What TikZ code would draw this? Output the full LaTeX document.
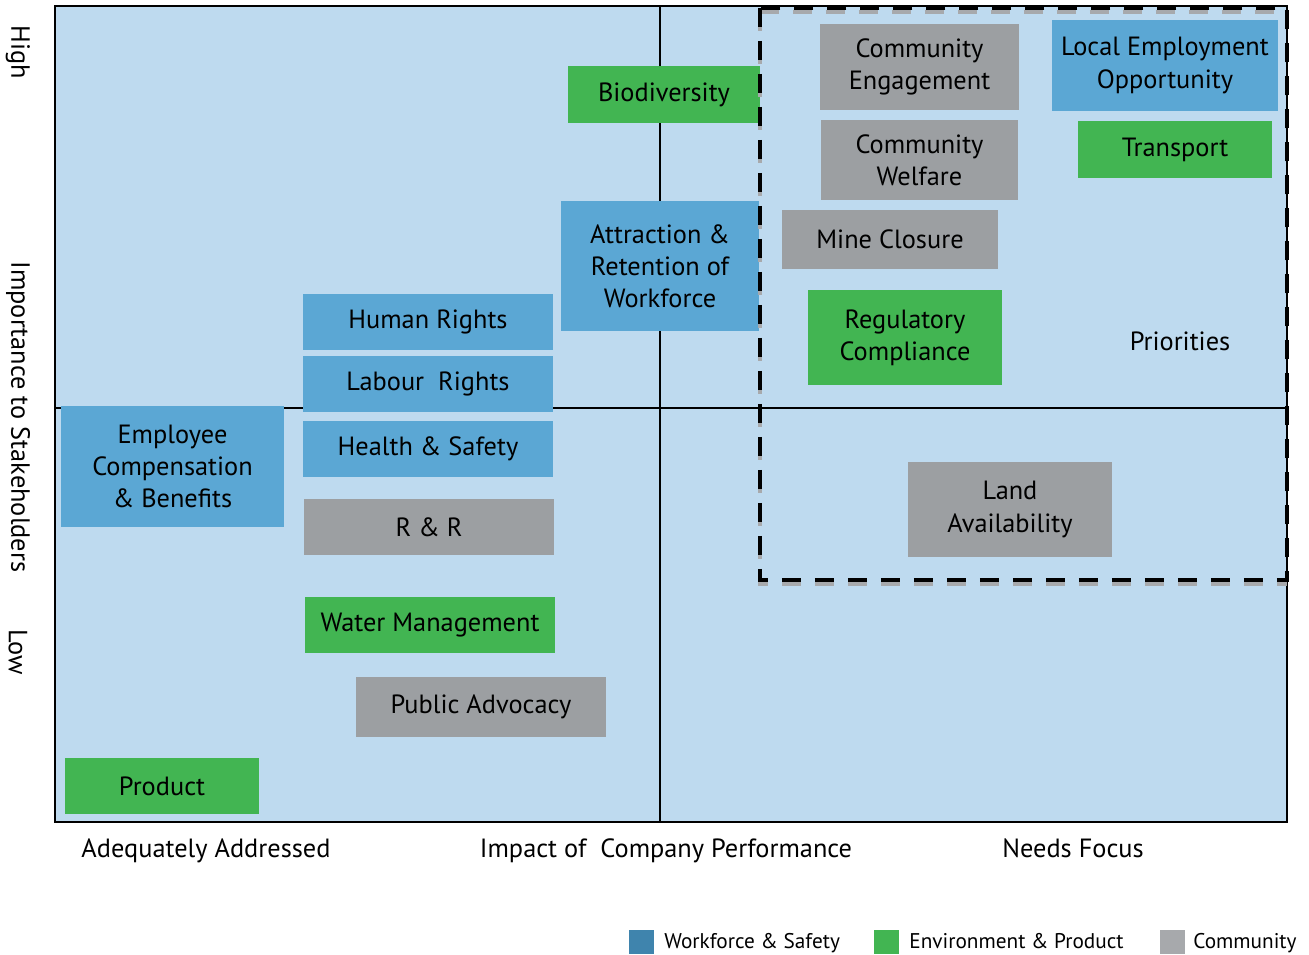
\documentclass[tikz,border=0pt]{standalone}
\usepackage{fontspec}
\setmainfont{PT Sans}
\definecolor{matbg}{RGB}{190,218,239}
\definecolor{wfblue}{RGB}{91,167,212}
\definecolor{envgreen}{RGB}{66,181,82}
\definecolor{comgrey}{RGB}{156,159,162}
\definecolor{keyblue}{RGB}{63,132,173}
\definecolor{keygrey}{RGB}{167,169,172}
\tikzset{
  issue/.style={inner sep=0pt, align=center, font=\fontsize{15}{18.3}\selectfont},
  wf/.style={issue, fill=wfblue},
  env/.style={issue, fill=envgreen},
  com/.style={issue, fill=comgrey},
  area/.style 2 args={minimum width=#1*0.02cm, minimum height=#2*0.02cm},
  axislabel/.style={inner sep=0pt, font=\fontsize{15}{18}\selectfont},
  keybox/.style={inner sep=0pt, minimum width=0.5cm, minimum height=0.48cm},
  keytext/.style={anchor=base west, inner sep=0pt, font=\fontsize{12.1}{14}\selectfont},
}
\begin{document}
\begin{tikzpicture}[x=0.02cm,y=-0.02cm]
  \useasboundingbox (0,0) rectangle (1309,955);
  % matrix background and quadrants
  \fill[matbg] (55,6) rectangle (1287,822);
  \draw[line width=1pt] (660,6) -- (660,822);
  \draw[line width=1pt] (55,408) -- (1287,408);
  \draw[line width=1.2pt] (55,6) rectangle (1287,822);

  % issues
  \node[env, area={192}{57}] (bio) at (664,94.5) {Biodiversity};
  \node[com, area={199}{86}] (engage) at (919.5,67) {Community\\Engagement};
  \node[wf, area={226}{91}] (localemp) at (1165,65.5) {Local Employment\\Opportunity};
  \node[com, area={197}{80}] (welfare) at (919.5,160) {Community\\Welfare};
  \node[env, area={194}{57}] (transport) at (1175,149.5) {Transport};
  \node[wf, area={198}{130}] (attract) at (660,266) {Attraction \&\\Retention of\\Workforce};
  \node[com, area={216}{59}] (closure) at (890,239.5) {Mine Closure};
  \node[env, area={194}{95}] (regulatory) at (905,337.5) {Regulatory\\Compliance};
  \node[issue] (priorities) at (1180,341) {Priorities};
  \node[wf, area={250}{56}] (humanrights) at (428,322) {Human Rights};
  \node[wf, area={250}{56}] (labour) at (428,384) {Labour~~Rights};
  \node[wf, area={223}{121}] (empcomp) at (172.5,466.5) {Employee\\Compensation\\\& Benefits};
  \node[wf, area={250}{56}] (health) at (428,449) {Health \& Safety};
  \node[com, area={250}{56}] (rr) at (429,527) {R \& R};
  \node[com, area={204}{95}] (land) at (1010,509.5) {Land\\Availability};
  \node[env, area={250}{56}] (water) at (430,625) {Water Management};
  \node[com, area={250}{60}] (advocacy) at (481,707) {Public Advocacy};
  \node[env, area={194}{56}] (product) at (162,786) {Product};

  % priority zone
  \draw[line width=2.3pt, keygrey, dash pattern=on 0.38cm off 0.28cm] (760,12) -- (760,584) -- (1287,584);
  \draw[line width=2.3pt, keygrey, dash pattern=on 0.38cm off 0.28cm] (760,12) -- (1287,12);
  \draw[line width=2.3pt, dash pattern=on 0.38cm off 0.28cm] (760,8) rectangle (1287,580);

  % axes
  \node[axislabel, anchor=base] (addressed) at (206,858) {Adequately Addressed};
  \node[axislabel, anchor=base] (impact) at (666,858) {Impact of~~Company Performance};
  \node[axislabel, anchor=base] (focus) at (1073,858) {Needs Focus};
  \node[axislabel, rotate=-90] (high) at (18,52) {High};
  \node[axislabel, rotate=-90] (importance) at (18,417) {Importance to Stakeholders};
  \node[axislabel, rotate=-90] (low) at (18,652) {Low};

  % key
  \node[keybox, fill=keyblue] (keywf) at (641.5,942) {};
  \node[keytext] (keywftext) at (664,949) {Workforce \& Safety};
  \node[keybox, fill=envgreen] (keyenv) at (886.5,942) {};
  \node[keytext] (keyenvtext) at (909,949) {Environment \& Product};
  \node[keybox, fill=keygrey] (keycom) at (1172.5,942) {};
  \node[keytext] (keycomtext) at (1193,949) {Community};
\end{tikzpicture}
\end{document}
